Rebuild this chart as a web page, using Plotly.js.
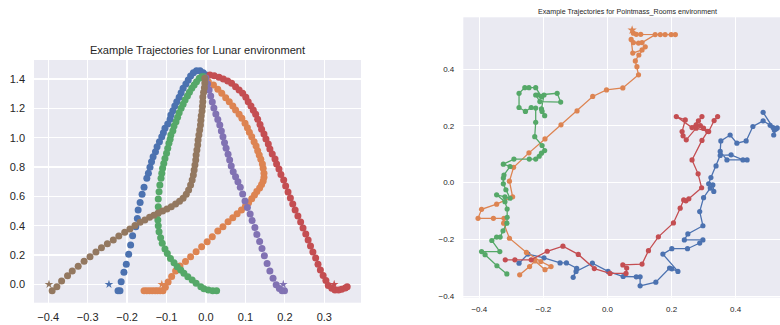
<!DOCTYPE html>
<html>
<head>
<meta charset="utf-8">
<script src="https://cdn.plot.ly/plotly-3.0.1.min.js"></script>
<style>
html, body { margin: 0; padding: 0; overflow: hidden; background: #ffffff; }
#chart { width: 791px; height: 325px; }
</style>
</head>
<body>
<div id="chart"></div>
<script>
// ---------- Lunar environment trajectories ----------
const lunarBlueX = [0.000,-0.007,-0.015,-0.024,-0.032,-0.039,-0.045,-0.051,-0.058,-0.063,-0.068,-0.074,-0.079,-0.084,-0.089,-0.091,-0.097,-0.104,-0.108,-0.112,-0.118,-0.124,-0.128,-0.134,-0.138,-0.142,-0.146,-0.150,-0.157,-0.162,-0.167,-0.172,-0.174,-0.178,-0.186,-0.191,-0.196,-0.202,-0.208,-0.215,-0.218,-0.223];
const lunarBlueY = [1.428,1.443,1.457,1.457,1.443,1.421,1.394,1.367,1.337,1.307,1.276,1.246,1.216,1.184,1.155,1.126,1.093,1.064,1.034,1.007,0.973,0.939,0.905,0.870,0.836,0.798,0.757,0.723,0.662,0.614,0.559,0.507,0.450,0.393,0.332,0.268,0.205,0.138,0.082,0.018,-0.044,-0.044];

const lunarOrangeX = [0.006,0.019,0.030,0.040,0.050,0.059,0.068,0.075,0.084,0.091,0.099,0.105,0.110,0.116,0.122,0.127,0.131,0.135,0.139,0.143,0.145,0.147,0.147,0.145,0.141,0.136,0.129,0.123,0.116,0.108,0.100,0.090,0.079,0.068,0.056,0.043,0.030,0.016,0.003,-0.011,-0.025,-0.039,-0.052,-0.066,-0.077,-0.087,-0.096,-0.103,-0.109,-0.116,-0.123,-0.129,-0.136,-0.143,-0.150,-0.157];
const lunarOrangeY = [1.382,1.359,1.330,1.303,1.273,1.246,1.216,1.189,1.160,1.132,1.098,1.068,1.037,1.007,0.973,0.943,0.911,0.882,0.853,0.821,0.791,0.757,0.730,0.705,0.681,0.657,0.633,0.609,0.584,0.557,0.532,0.507,0.482,0.454,0.427,0.393,0.364,0.325,0.291,0.256,0.222,0.188,0.156,0.125,0.091,0.053,0.016,-0.020,-0.044,-0.044,-0.044,-0.044,-0.044,-0.044,-0.044,-0.044];

const lunarGreenX = [-0.005,-0.011,-0.017,-0.024,-0.030,-0.036,-0.042,-0.047,-0.053,-0.058,-0.063,-0.068,-0.072,-0.076,-0.081,-0.084,-0.089,-0.091,-0.094,-0.097,-0.100,-0.104,-0.107,-0.110,-0.112,-0.114,-0.117,-0.119,-0.121,-0.121,-0.122,-0.122,-0.121,-0.119,-0.115,-0.111,-0.104,-0.098,-0.090,-0.081,-0.073,-0.064,-0.056,-0.046,-0.035,-0.025,-0.013,-0.005,0.006,0.017,0.027];
const lunarGreenY = [1.416,1.416,1.405,1.382,1.360,1.337,1.310,1.284,1.257,1.228,1.201,1.171,1.139,1.109,1.080,1.048,1.018,0.989,0.962,0.928,0.894,0.859,0.825,0.791,0.757,0.723,0.677,0.632,0.582,0.529,0.484,0.439,0.400,0.359,0.318,0.280,0.241,0.211,0.177,0.147,0.120,0.098,0.075,0.052,0.029,0.007,-0.016,-0.030,-0.039,-0.044,-0.044];

const lunarRedX = [0.010,0.021,0.033,0.044,0.055,0.065,0.075,0.084,0.093,0.101,0.107,0.114,0.120,0.126,0.131,0.137,0.141,0.147,0.152,0.158,0.162,0.168,0.175,0.179,0.185,0.190,0.197,0.202,0.208,0.214,0.220,0.226,0.233,0.240,0.246,0.253,0.259,0.265,0.271,0.278,0.284,0.290,0.297,0.304,0.310,0.319,0.327,0.336,0.344,0.353,0.358];
const lunarRedY = [1.428,1.423,1.412,1.400,1.387,1.371,1.348,1.325,1.303,1.276,1.246,1.216,1.188,1.160,1.126,1.091,1.057,1.025,0.991,0.957,0.923,0.889,0.855,0.821,0.786,0.750,0.711,0.671,0.630,0.589,0.548,0.507,0.466,0.425,0.384,0.343,0.302,0.261,0.220,0.179,0.138,0.098,0.060,0.026,-0.008,-0.027,-0.039,-0.039,-0.034,-0.025,-0.016];

const lunarPurpleX = [0.000,0.004,0.008,0.012,0.016,0.020,0.025,0.030,0.035,0.039,0.043,0.047,0.051,0.056,0.060,0.064,0.069,0.075,0.081,0.087,0.093,0.099,0.105,0.112,0.117,0.124,0.129,0.136,0.142,0.148,0.155,0.162,0.170,0.178,0.186,0.193,0.199];
const lunarPurpleY = [1.407,1.366,1.325,1.284,1.244,1.203,1.162,1.124,1.087,1.046,1.007,0.966,0.928,0.887,0.848,0.807,0.768,0.734,0.700,0.662,0.616,0.568,0.524,0.480,0.435,0.387,0.340,0.292,0.244,0.195,0.143,0.091,0.041,-0.003,-0.029,-0.044,-0.044];

const lunarBrownX = [-0.003,-0.003,-0.004,-0.006,-0.008,-0.008,-0.009,-0.010,-0.012,-0.013,-0.014,-0.016,-0.018,-0.020,-0.021,-0.023,-0.025,-0.026,-0.028,-0.030,-0.032,-0.035,-0.039,-0.044,-0.050,-0.058,-0.067,-0.077,-0.088,-0.099,-0.110,-0.121,-0.132,-0.143,-0.155,-0.167,-0.180,-0.193,-0.206,-0.221,-0.235,-0.250,-0.265,-0.279,-0.294,-0.309,-0.324,-0.339,-0.351,-0.366,-0.378,-0.390];
const lunarBrownY = [1.405,1.373,1.341,1.310,1.278,1.246,1.214,1.182,1.150,1.119,1.087,1.053,1.018,0.984,0.950,0.916,0.882,0.848,0.814,0.780,0.746,0.711,0.677,0.643,0.614,0.587,0.566,0.548,0.529,0.514,0.500,0.486,0.471,0.457,0.439,0.423,0.402,0.377,0.355,0.329,0.302,0.277,0.249,0.220,0.188,0.157,0.123,0.092,0.058,0.023,-0.016,-0.044];

// goal stars (Lunar): blue, orange, red, purple, brown
const lunarStarX = [-0.246, -0.112, 0.325, 0.196, -0.398];
const lunarStarY = [0.0, 0.0, 0.0, 0.0, 0.0];
const lunarStarSeries = ['blue', 'orange', 'red', 'purple', 'brown'];

// ---------- Pointmass_Rooms environment trajectories ----------
const roomsBlueX = [-0.276,-0.248,-0.198,-0.148,-0.128,-0.096,-0.107,-0.098,-0.047,0.002,0.049,0.090,0.102,0.102,0.151,0.194,0.201,0.220,0.173,0.201,0.250,0.288,0.298,0.240,0.251,0.298,0.288,0.300,0.321,0.332,0.329,0.316,0.323,0.339,0.352,0.386,0.423,0.436,0.373,0.352,0.354,0.383,0.404,0.433,0.454,0.486,0.508,0.526,0.519,0.521,0.486,0.517,0.530];
const roomsBlueY = [-0.284,-0.252,-0.265,-0.283,-0.283,-0.302,-0.334,-0.313,-0.284,-0.313,-0.331,-0.332,-0.332,-0.364,-0.351,-0.301,-0.304,-0.313,-0.252,-0.233,-0.233,-0.213,-0.202,-0.202,-0.181,-0.152,-0.102,-0.053,-0.019,-0.031,-0.008,-0.004,0.018,0.059,0.096,0.098,0.080,0.080,0.080,0.110,0.147,0.168,0.139,0.147,0.198,0.218,0.202,0.189,0.168,0.186,0.248,0.194,0.193];

const roomsOrangeX = [-0.274,-0.243,-0.226,-0.195,-0.176,-0.208,-0.253,-0.306,-0.324,-0.323,-0.356,-0.404,-0.393,-0.346,-0.296,-0.306,-0.293,-0.245,-0.195,-0.145,-0.095,-0.046,-0.003,0.048,0.097,0.092,0.087,0.098,0.118,0.108,0.079,0.074,0.081,0.097,0.108,0.149,0.165,0.180,0.199,0.212,0.104,0.090,0.081];
const roomsOrangeY = [-0.325,-0.296,-0.276,-0.307,-0.296,-0.278,-0.246,-0.196,-0.143,-0.126,-0.126,-0.126,-0.094,-0.076,-0.050,0.005,0.054,0.105,0.154,0.204,0.253,0.304,0.327,0.334,0.380,0.409,0.429,0.450,0.479,0.468,0.457,0.505,0.494,0.492,0.494,0.522,0.522,0.522,0.522,0.522,0.523,0.523,0.527];
const roomsStarX = [0.077];
const roomsStarY = [0.538];

const roomsGreenX = [-0.314,-0.345,-0.382,-0.393,-0.336,-0.361,-0.346,-0.335,-0.326,-0.314,-0.313,-0.313,-0.320,-0.346,-0.320,-0.304,-0.317,-0.325,-0.325,-0.323,-0.304,-0.325,-0.292,-0.244,-0.224,-0.213,-0.206,-0.196,-0.204,-0.227,-0.224,-0.224,-0.238,-0.256,-0.276,-0.276,-0.258,-0.245,-0.224,-0.206,-0.217,-0.157,-0.146,-0.211,-0.224,-0.198,-0.206,-0.204,-0.196];
const roomsGreenY = [-0.322,-0.293,-0.254,-0.243,-0.243,-0.204,-0.192,-0.192,-0.170,-0.143,-0.122,-0.093,-0.067,-0.043,-0.050,-0.055,-0.025,-0.004,0.016,0.027,0.057,0.065,0.083,0.083,0.083,0.093,0.104,0.113,0.131,0.162,0.213,0.263,0.265,0.251,0.265,0.315,0.335,0.335,0.335,0.303,0.309,0.315,0.284,0.286,0.309,0.309,0.260,0.251,0.236];

const roomsRedX = [-0.319,-0.289,-0.238,-0.188,-0.139,-0.091,-0.041,0.008,0.058,0.060,0.048,0.108,0.128,0.159,0.206,0.227,0.238,0.245,0.254,0.294,0.283,0.264,0.295,0.313,0.277,0.246,0.236,0.233,0.243,0.215,0.264,0.295,0.284,0.277,0.290,0.300,0.316,0.333,0.344];
const roomsRedY = [-0.272,-0.272,-0.272,-0.242,-0.224,-0.253,-0.303,-0.320,-0.320,-0.301,-0.290,-0.287,-0.240,-0.191,-0.142,-0.090,-0.061,-0.064,-0.057,-0.018,0.031,0.080,0.149,0.181,0.192,0.151,0.165,0.180,0.221,0.233,0.194,0.233,0.218,0.204,0.201,0.192,0.180,0.219,0.233];

// ticks
const lunarXTicks = [-0.4, -0.3, -0.2, -0.1, 0.0, 0.1, 0.2, 0.3];
const lunarYTicks = [0.0, 0.2, 0.4, 0.6, 0.8, 1.0, 1.2, 1.4];
const roomsXTicks = [-0.4, -0.2, 0.0, 0.2, 0.4];
const roomsYTicks = [-0.4, -0.2, 0.0, 0.2, 0.4];

const colors = {
  blue: '#4C72B0', orange: '#DD8452', green: '#55A868',
  red: '#C44E52', purple: '#8172B3', brown: '#937860'
};

const FONT = 'Liberation Sans, Arial, sans-serif';
const TXT = '#262626';

function lunarTrace(x, y, c) {
  return { x: x, y: y, type: 'scatter', mode: 'markers', xaxis: 'x', yaxis: 'y',
    marker: { color: colors[c], size: 7, line: { width: 0 } }, hoverinfo: 'skip' };
}
function roomsTrace(x, y, c) {
  return { x: x, y: y, type: 'scatter', mode: 'lines+markers', xaxis: 'x2', yaxis: 'y2',
    line: { color: colors[c], width: 1.3 },
    marker: { color: colors[c], size: 5.2, line: { width: 0 } }, hoverinfo: 'skip' };
}

const traces = [
  lunarTrace(lunarBlueX, lunarBlueY, 'blue'),
  lunarTrace(lunarOrangeX, lunarOrangeY, 'orange'),
  lunarTrace(lunarGreenX, lunarGreenY, 'green'),
  lunarTrace(lunarRedX, lunarRedY, 'red'),
  lunarTrace(lunarPurpleX, lunarPurpleY, 'purple'),
  lunarTrace(lunarBrownX, lunarBrownY, 'brown'),
  { x: lunarStarX, y: lunarStarY, type: 'scatter', mode: 'markers', xaxis: 'x', yaxis: 'y',
    marker: { symbol: 'star', size: 6.5, color: lunarStarSeries.map(s => colors[s]), line: { width: 0 } }, hoverinfo: 'skip' },
  roomsTrace(roomsBlueX, roomsBlueY, 'blue'),
  roomsTrace(roomsOrangeX, roomsOrangeY, 'orange'),
  roomsTrace(roomsGreenX, roomsGreenY, 'green'),
  roomsTrace(roomsRedX, roomsRedY, 'red'),
  { x: roomsStarX, y: roomsStarY, type: 'scatter', mode: 'markers', xaxis: 'x2', yaxis: 'y2',
    marker: { symbol: 'star', size: 7, color: colors.orange, line: { width: 0 } }, hoverinfo: 'skip' }
];

const W = 791, H = 325;
function axisCommon(fs) {
  return { showgrid: true, gridcolor: '#ffffff', gridwidth: 1.2, zeroline: false,
    showline: false, ticks: '', tickformat: '.1f',
    tickfont: { family: FONT, size: fs, color: TXT } };
}

const layout = {
  width: W, height: H,
  margin: { l: 0, r: 0, t: 0, b: 0, pad: 0 },
  paper_bgcolor: '#ffffff', plot_bgcolor: '#EAEAF2',
  showlegend: false,
  font: { family: FONT, color: TXT },
  title: { text: 'Example Trajectories for Lunar environment',
    font: { family: FONT, size: 11.1, color: TXT },
    x: 197.5 / W, xanchor: 'center', xref: 'paper',
    y: 1 - 50 / H, yanchor: 'middle', yref: 'paper' },
  xaxis: Object.assign(axisCommon(11), { domain: [34 / W, 361 / W], range: [-0.436, 0.393],
    tickvals: lunarXTicks, anchor: 'y', ticklabelstandoff: 6 }),
  yaxis: Object.assign(axisCommon(11), { domain: [(H - 302.7) / H, (H - 60) / H], range: [-0.125, 1.53],
    tickvals: lunarYTicks, anchor: 'x', ticklabelstandoff: 8 }),
  xaxis2: Object.assign(axisCommon(8), { domain: [463.3 / W, 1], range: [-0.45, 0.573],
    tickvals: roomsXTicks, anchor: 'y2', ticklabelstandoff: 5, gridwidth: 1 }),
  yaxis2: Object.assign(axisCommon(8), { domain: [(H - 297.5) / H, (H - 17.3) / H], range: [-0.405, 0.583],
    tickvals: roomsYTicks, anchor: 'x2', ticklabelstandoff: 8, gridwidth: 1 }),
  annotations: [{
    text: 'Example Trajectories for Pointmass_Rooms environment',
    xref: 'paper', yref: 'paper', x: 627 / W, y: 1 - 11.7 / H,
    xanchor: 'center', yanchor: 'middle', showarrow: false,
    font: { family: FONT, size: 7.1, color: TXT }
  }]
};

Plotly.newPlot('chart', traces, layout, { staticPlot: true, displayModeBar: false });
</script>
</body>
</html>
